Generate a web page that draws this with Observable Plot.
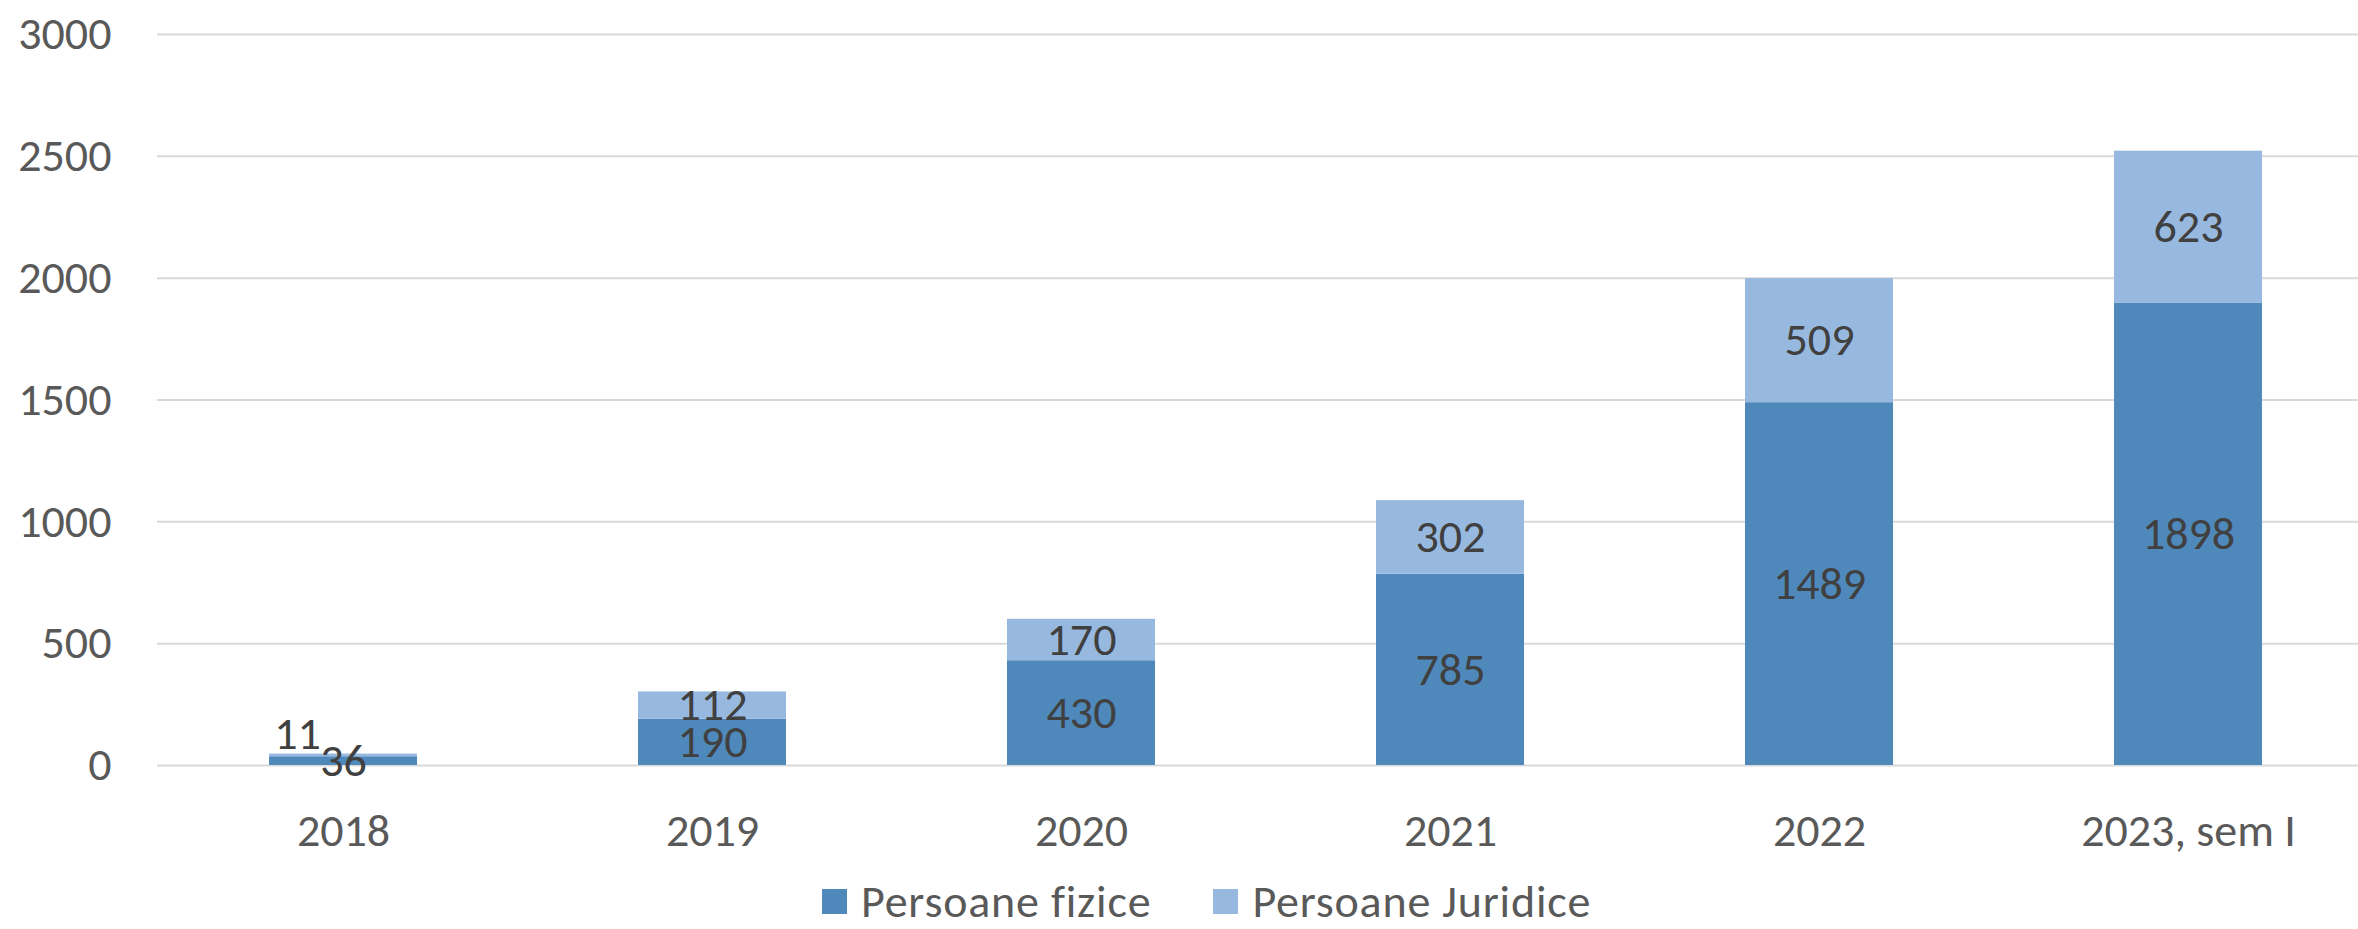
<!DOCTYPE html>
<html>
<head>
<meta charset="utf-8">
<script src="https://cdn.jsdelivr.net/npm/d3@7"></script>
<script src="https://cdn.jsdelivr.net/npm/@observablehq/plot@0.6"></script>
<style>
  html, body { margin: 0; padding: 0; background: #ffffff; }
  body { width: 2358px; height: 929px; overflow: hidden; font-family: Calibri, Carlito, Lato, sans-serif; }
  #chart svg { display: block; max-width: none; }
  #legend { height: 67px; box-sizing: border-box; padding-left: 822px; padding-top: 16px; display: flex; align-items: flex-start; }
  .item { display: flex; align-items: center; height: 46px; line-height: 46px; margin-right: 62px; font-size: 46px; letter-spacing: 0.8px; color: #595959; white-space: nowrap; }
  .swatch { width: 25px; height: 25px; margin-right: 14px; flex: none; }
</style>
</head>
<body>
<div id="chart"></div>
<div id="legend"></div>
<script>
// ---- data ----
const years = ["2018", "2019", "2020", "2021", "2022", "2023, sem I"];
const seriesNames = ["Persoane fizice", "Persoane Juridice"];
const fizice = [36, 190, 430, 785, 1489, 1898];
const juridice = [11, 112, 170, 302, 509, 623];
const yTicks = [0, 500, 1000, 1500, 2000, 2500, 3000];
const seriesColors = ["#4f89bb", "#98b9df"];

// the one data label that the original chart nudges aside
const nudgedYear = "2018";
const nudgedSeries = "Persoane Juridice";

const data = [];
years.forEach((yr, i) => {
  data.push({ year: yr, series: seriesNames[0], value: fizice[i] });
  data.push({ year: yr, series: seriesNames[1], value: juridice[i] });
});
const isNudged = d => d.year === nudgedYear && d.series === nudgedSeries;

const FS = 46;
const W = 2358, H = 862;
const plot = Plot.plot({
  width: W,
  height: H,
  marginTop: 34,
  marginBottom: H - 765,
  marginLeft: 157,
  marginRight: -15,
  style: { fontFamily: "Calibri, Carlito, Lato, sans-serif", fontSize: FS + "px", color: "#595959", background: "#ffffff" },
  x: { domain: years, paddingInner: 0.6, paddingOuter: 0.3, label: null },
  y: { domain: [0, 3000], label: null },
  color: { domain: seriesNames, range: seriesColors },
  marks: [
    Plot.gridY({ ticks: yTicks, stroke: "#d9d9d9", strokeOpacity: 1, strokeWidth: 2 }),
    Plot.barY(data, { x: "year", y: "value", fill: "series" }),
    Plot.text(data, Plot.stackY({
      x: "year", y: "value", z: "series",
      text: d => isNudged(d) ? "" : String(d.value),
      fill: "#404040", fontSize: FS
    })),
    Plot.text(data, Plot.stackY({
      x: "year", y: "value", z: "series",
      text: d => isNudged(d) ? String(d.value) : "",
      fill: "#404040", fontSize: FS, dx: -46, dy: -21
    })),
    Plot.axisY({ ticks: yTicks, tickFormat: d => String(d), tickSize: 0, tickPadding: 46, fontSize: FS, fill: "#595959", label: null }),
    Plot.axisX({ tickSize: 0, tickPadding: 48, fontSize: FS, fill: "#595959", label: null })
  ]
});
document.getElementById("chart").appendChild(plot);

const legend = document.getElementById("legend");
seriesNames.forEach((name, i) => {
  const item = document.createElement("div");
  item.className = "item";
  const sw = document.createElement("span");
  sw.className = "swatch";
  sw.style.background = seriesColors[i];
  const label = document.createElement("span");
  label.textContent = name;
  item.appendChild(sw);
  item.appendChild(label);
  legend.appendChild(item);
});
</script>
</body>
</html>
